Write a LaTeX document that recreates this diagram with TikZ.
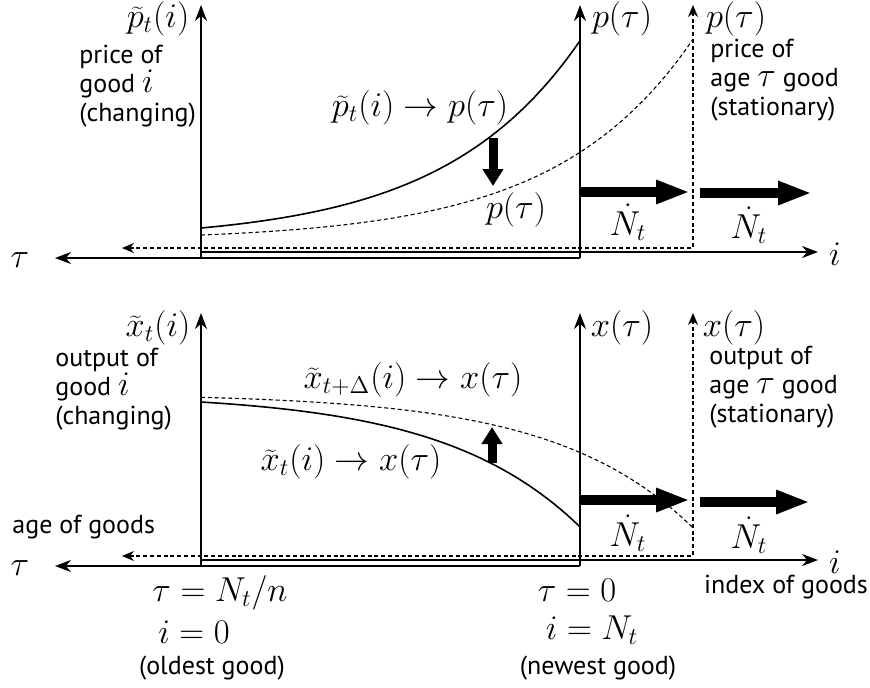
\documentclass[tikz,border=0pt]{standalone}
\usepackage{fontspec}
\setsansfont{PT Sans}
\usetikzlibrary{arrows.meta}

\newcommand{\txtmath}[1]{{\fontsize{17}{14.5}\selectfont$#1$}}

\tikzset{
  axis/.style={-{Stealth[length=8pt,width=6pt]},line width=0.9pt},
  statline/.style={dash pattern=on 2pt off 1.4pt,line width=0.55pt},
  curve/.style={line width=0.8pt},
  bigarrow/.style={-{Triangle[length=17pt,width=11pt]},line width=5pt},
  shiftarrow/.style={-{Triangle[length=8.5pt,width=10pt]},line width=4.5pt},
  lab/.style={font=\fontsize{17}{20}\selectfont,inner sep=0pt},
  txt/.style={font=\fontsize{13}{14.5}\selectfont\sffamily,align=left,inner sep=0pt},
}

\begin{document}
\begin{tikzpicture}[x=0.5pt,y=-0.5pt]
  \useasboundingbox (0,0) rectangle (870,687);

  % ---------- upper panel: prices ----------
  \draw[axis] (201,258)--(201,5);
  \draw[axis] (580,258)--(55,258);
  \draw[axis] (580,258)--(580,5);
  \draw[axis] (201,252)--(818,252);
  \draw[statline,{Stealth[length=6pt,width=5pt]}-{Stealth[length=6pt,width=5pt]}]
    (122,248)--(693,248)--(693,5);

  \draw[curve,domain=201:580,samples=60]
    plot(\x,{258-30-12.6*(exp(0.0073*(\x-201))-1)});
  \draw[statline,domain=201:693,samples=60]
    plot(\x,{258-30-12.6*(exp(0.0073*(\x-313))-1)});

  % shifts
  \draw[shiftarrow] (493,138)--(493,186);
  \draw[bigarrow] (580,192)--(690,192);
  \draw[bigarrow] (700,193)--(812,193);

  \node[lab] (ptil) at (158,19) {$\widetilde{p}_t(i)$};
  \node[txt,anchor=west] (pgood) at (79,86) {price of\\good \txtmath{i}\\(changing)};
  \node[lab] (pconv) at (420,108) {$\widetilde{p}_t(i)\rightarrow p(\tau)$};
  \node[lab] (pstat) at (516,210) {$p(\tau)$};
  \node[lab] (pnew) at (622,19) {$p(\tau)$};
  \node[lab] (pnext) at (736,19) {$p(\tau)$};
  \node[txt,anchor=west] (page) at (710,80) {price of\\age \txtmath{\tau} good\\(stationary)};
  \node[lab] (ndotA) at (628,222) {$\dot{N}_t$};
  \node[lab] (ndotB) at (749,225) {$\dot{N}_t$};
  \node[lab] (iA) at (835,254) {$i$};
  \node[lab] (tauA) at (20,260) {$\tau$};

  % ---------- lower panel: outputs ----------
  \draw[axis] (201,566)--(201,313);
  \draw[axis] (580,566)--(55,566);
  \draw[axis] (580,566)--(580,313);
  \draw[axis] (201,560)--(818,560);
  \draw[statline,{Stealth[length=6pt,width=5pt]}-{Stealth[length=6pt,width=5pt]}]
    (122,556)--(693,556)--(693,313);

  \draw[curve,domain=201:580,samples=60]
    plot(\x,{566-164-8.4*(1-exp(0.0073*(\x-201)))});
  \draw[statline,domain=201:693,samples=60]
    plot(\x,{566-164-8.4*(1-exp(0.0073*(\x-313)))});

  % shifts
  \draw[shiftarrow] (492,463)--(492,427);
  \draw[bigarrow] (580,500)--(690,500);
  \draw[bigarrow] (700,502)--(810,502);

  \node[lab] (xtil) at (158,328) {$\widetilde{x}_t(i)$};
  \node[txt,anchor=west] (xgood) at (55,389) {output of\\good \txtmath{i}\\(changing)};
  \node[lab] (xnext) at (413,380) {$\widetilde{x}_{t+\Delta}(i)\rightarrow x(\tau)$};
  \node[lab] (xconv) at (351,462) {$\widetilde{x}_t(i)\rightarrow x(\tau)$};
  \node[lab] (xnew) at (622,328) {$x(\tau)$};
  \node[lab] (xstat) at (734,328) {$x(\tau)$};
  \node[txt,anchor=west] (xage) at (709,387) {output of\\age \txtmath{\tau} good\\(stationary)};
  \node[lab] (ndotC) at (628,533) {$\dot{N}_t$};
  \node[lab] (ndotD) at (749,535) {$\dot{N}_t$};
  \node[txt,anchor=west] (agegoods) at (12,527) {age of goods};
  \node[lab] (tauB) at (20,568) {$\tau$};
  \node[lab] (iB) at (835,562) {$i$};
  \node[txt] (index) at (786,587) {index of goods};

  % end points
  \node[lab] (oldtau) at (220,593) {$\tau=N_t/n$};
  \node[lab] (oldi) at (194,632) {$i=0$};
  \node[txt] (oldest) at (212,668) {(oldest good)};
  \node[lab] (newtau) at (577,590) {$\tau=0$};
  \node[lab] (newi) at (592,630) {$i=N_t$};
  \node[txt] (newest) at (598,668) {(newest good)};
\end{tikzpicture}
\end{document}
